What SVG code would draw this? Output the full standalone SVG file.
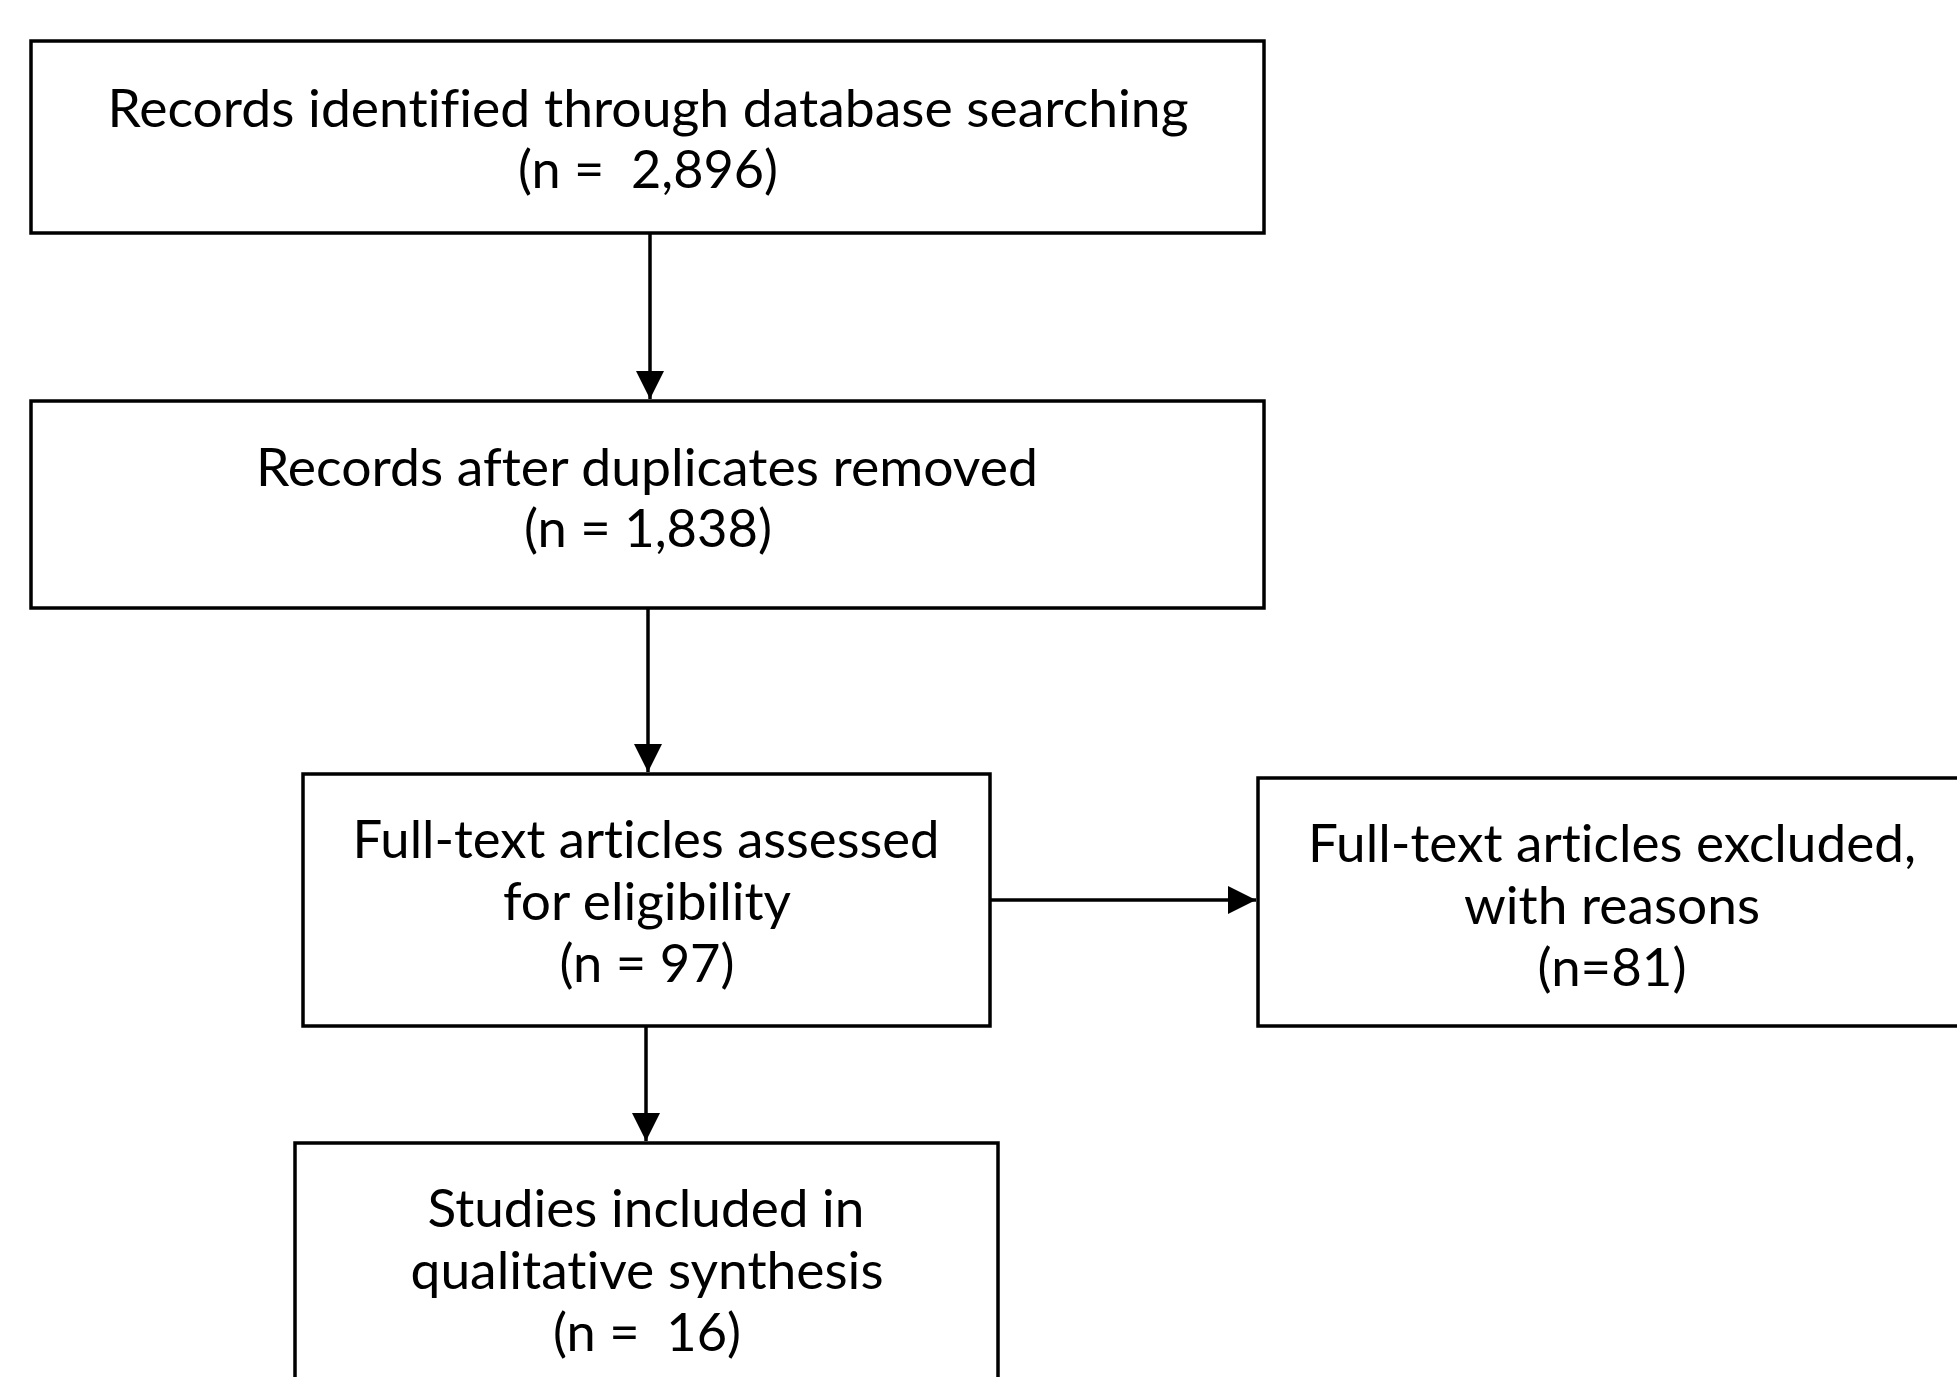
<svg xmlns="http://www.w3.org/2000/svg" width="1957" height="1377" viewBox="0 0 1957 1377">
<style>
.box{fill:#fff;stroke:#000;stroke-width:3.5}
.t{font-family:Lato,"Liberation Sans",sans-serif;font-size:52px;fill:#000;text-anchor:middle;font-variant-ligatures:none;font-feature-settings:"liga" 0,"clig" 0}
.c{stroke:#000;stroke-width:3.5;fill:none}
</style>
<defs>
<marker id="ah" markerUnits="userSpaceOnUse" markerWidth="30" markerHeight="30" refX="28" refY="14" orient="auto">
<path d="M0,0 L28,14 L0,28 Z" fill="#000"/>
</marker>
</defs>
<rect width="1957" height="1377" fill="#fff"/>
<g id="connectors">
<line class="c" x1="650" y1="233" x2="650" y2="399" marker-end="url(#ah)"/>
<line class="c" x1="648" y1="608" x2="648" y2="772" marker-end="url(#ah)"/>
<line class="c" x1="990" y1="900" x2="1256" y2="900" marker-end="url(#ah)"/>
<line class="c" x1="646" y1="1026" x2="646" y2="1141" marker-end="url(#ah)"/>
</g>
<g id="n1">
<rect class="box" x="31" y="41" width="1233" height="192"/>
<text class="t" x="648" y="127" textLength="1081" lengthAdjust="spacingAndGlyphs">Records identified through database searching</text>
<text class="t" x="648" y="188" textLength="260" lengthAdjust="spacingAndGlyphs" xml:space="preserve">(n =  2,896)</text>
</g>
<g id="n2">
<rect class="box" x="31" y="401" width="1233" height="207"/>
<text class="t" x="647" y="486" textLength="782" lengthAdjust="spacingAndGlyphs">Records after duplicates removed</text>
<text class="t" x="648" y="547" textLength="248" lengthAdjust="spacingAndGlyphs">(n = 1,838)</text>
</g>
<g id="n3">
<rect class="box" x="303" y="774" width="687" height="252"/>
<text class="t" x="646" y="858" textLength="587" lengthAdjust="spacingAndGlyphs">Full-text articles assessed</text>
<text class="t" x="647" y="920" textLength="288" lengthAdjust="spacingAndGlyphs">for eligibility</text>
<text class="t" x="647" y="982" textLength="175" lengthAdjust="spacingAndGlyphs">(n = 97)</text>
</g>
<g id="n4">
<rect class="box" x="1258" y="778" width="720" height="248"/>
<text class="t" x="1612" y="862" textLength="608" lengthAdjust="spacingAndGlyphs">Full-text articles excluded,</text>
<text class="t" x="1612" y="924" textLength="296" lengthAdjust="spacingAndGlyphs">with reasons</text>
<text class="t" x="1612" y="986" textLength="149" lengthAdjust="spacingAndGlyphs">(n=81)</text>
</g>
<g id="n5">
<rect class="box" x="295" y="1143" width="703" height="260"/>
<text class="t" x="646" y="1227" textLength="437" lengthAdjust="spacingAndGlyphs">Studies included in</text>
<text class="t" x="647" y="1289" textLength="473" lengthAdjust="spacingAndGlyphs">qualitative synthesis</text>
<text class="t" x="647" y="1351" textLength="188" lengthAdjust="spacingAndGlyphs" xml:space="preserve">(n =  16)</text>
</g>
</svg>
